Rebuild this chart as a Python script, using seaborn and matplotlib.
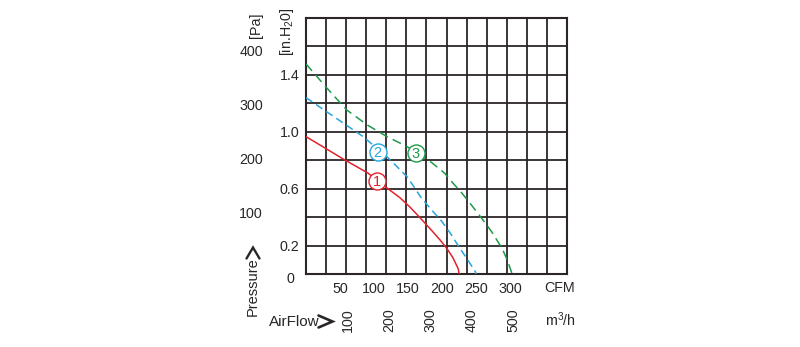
import matplotlib
matplotlib.use("Agg")
import numpy as np
import pandas as pd
import seaborn as sns
import matplotlib.pyplot as plt
from matplotlib import font_manager as fm
from matplotlib.lines import Line2D

# ---------------- data ----------------
cfm_1 = [0, 57, 91, 119, 138, 153, 168, 185, 197, 207, 216, 224, 225]
inh2o_1 = [0.966, 0.802, 0.710, 0.605, 0.537, 0.470, 0.394, 0.305, 0.240, 0.180, 0.115, 0.035, 0.0]

cfm_2 = [0, 84, 121, 149, 170, 187, 200, 214, 226, 238, 249, 250]
inh2o_2 = [1.240, 0.966, 0.816, 0.682, 0.532, 0.438, 0.368, 0.274, 0.183, 0.098, 0.016, 0.0]

cfm_3 = [0, 31, 60, 90, 119, 149, 185, 204, 216, 229, 241, 258, 273, 288, 296, 302, 303]
inh2o_3 = [1.477, 1.306, 1.153, 1.048, 0.966, 0.895, 0.783, 0.708, 0.640, 0.570,
           0.499, 0.394, 0.297, 0.183, 0.098, 0.016, 0.0]

curve_names = ["1", "2", "3"]
curve_colors = ["#e2232b", "#27a6e0", "#1f9a4b"]

cfm_ticks = [50, 100, 150, 200, 250, 300, 350]
cfm_tick_labels = ["50", "100", "150", "200", "250", "300", ""]
inh2o_ticks = [0.2, 0.6, 1.0, 1.4]
inh2o_tick_labels = ["0.2", "0.6", "1.0", "1.4"]
pa_labels = [100, 200, 300, 400]
m3h_labels = [100, 200, 300, 400, 500]

# chart scale constants
X_MAX_CFM = 383.8
Y_MAX_IN = 1.8
N_COLS = 13
M3H_PER_CFM = 1.64
PA_PER_IN = 264.0

# ---------------- style ----------------
sns.set_theme(style="white")
avail = {f.name for f in fm.fontManager.ttflist}
base_font = "Liberation Sans Narrow" if "Liberation Sans Narrow" in avail else "Liberation Sans"
plt.rcParams["font.family"] = [base_font, "DejaVu Sans"]
plt.rcParams["mathtext.default"] = "regular"
TXT = "#2a2627"
GRID = "#2b2526"
FS = 10.3

W, H = 800, 347
fig = plt.figure(figsize=(W / 100, H / 100), dpi=100)
L, R, T, B = 306, 567, 18, 274
ax = fig.add_axes([L / W, 1 - B / H, (R - L) / W, (B - T) / H])

def fx(px):
    return px / W

def fy(py):
    return 1 - py / H

# ---------------- curves ----------------
frames = []
for name, xs, ys in zip(curve_names, [cfm_1, cfm_2, cfm_3], [inh2o_1, inh2o_2, inh2o_3]):
    frames.append(pd.DataFrame({"cfm": xs, "inh2o": ys, "curve": name}))
df = pd.concat(frames, ignore_index=True)

dash_styles = {"1": None, "2": (5, 3), "3": (6, 3.5)}
for name, color in zip(curve_names, curve_colors):
    sub = df[df["curve"] == name]
    sns.lineplot(data=sub, x="cfm", y="inh2o", ax=ax, color=color, lw=1.1,
                 sort=False, estimator=None, legend=False, zorder=3)
    ln = ax.lines[-1]
    if dash_styles[name] is not None:
        ln.set_dashes(dash_styles[name])

# numbered circle labels
circle_pos = {"1": (104, 0.654), "2": (105.4, 0.860), "3": (161.8, 0.853)}
for name, color in zip(curve_names, curve_colors):
    cx, cy = circle_pos[name]
    ax.scatter([cx], [cy], s=150, facecolor="white", edgecolor=color, linewidth=1.0,
               zorder=5, clip_on=False)
    ax.text(cx, cy, name, color=color, fontsize=10.5, ha="center", va="center_baseline",
            zorder=6, family=["Liberation Sans", "DejaVu Sans"])

# ---------------- axes, grid ----------------
ax.set_xlim(0, X_MAX_CFM)
ax.set_ylim(0, Y_MAX_IN)
ax.xaxis.remove_overlapping_locs = False
ax.yaxis.remove_overlapping_locs = False
ax.set_xticks(np.linspace(0, X_MAX_CFM, N_COLS + 1), minor=True)
ax.set_yticks(np.arange(0, Y_MAX_IN + 0.01, 0.2), minor=True)
ax.grid(False)
ax.grid(which="minor", color=GRID, lw=1.3)
ax.set_axisbelow(True)
ax.set_xticks(cfm_ticks)
ax.set_xticklabels(cfm_tick_labels)
ax.set_yticks(inh2o_ticks)
ax.set_yticklabels(inh2o_tick_labels)
ax.tick_params(axis="x", which="major", direction="in", length=3.5, width=1,
               color="#8a8a8a", pad=5.5, labelsize=FS, labelcolor=TXT)
ax.tick_params(axis="y", which="major", length=0, pad=4.5, labelsize=FS, labelcolor=TXT)
ax.tick_params(which="minor", length=0)
ax.set_xlabel("")
ax.set_ylabel("")
for sp in ax.spines.values():
    sp.set_color(GRID)
    sp.set_linewidth(1.5)

# ---------------- outside labels ----------------
for pa in pa_labels:
    y_in = pa / PA_PER_IN
    y_px = B - y_in * (B - T) / Y_MAX_IN - 6.5
    fig.text(fx(263), fy(y_px), str(pa), ha="right", va="center", fontsize=FS, color=TXT)
fig.text(fx(294), fy(279), "0", ha="right", va="center", fontsize=FS, color=TXT)

fig.text(fx(255.5), fy(25), "[Pa]", rotation=90, ha="center", va="center",
         fontsize=FS, color=TXT)
fig.text(fx(287.5), fy(32), "[in.H$_2$0]", rotation=90, ha="center", va="center",
         fontsize=FS, color=TXT)

for v in m3h_labels:
    x_cfm = v / M3H_PER_CFM
    x_px = L + x_cfm * (R - L) / X_MAX_CFM
    fig.text(fx(x_px), fy(320), str(v), rotation=90, ha="center", va="center",
             fontsize=FS, color=TXT)
fig.text(fx(560), fy(320), "m$^3$/h", ha="center", va="center", fontsize=FS, color=TXT)
fig.text(fx(560), fy(287.5), "CFM", ha="center", va="center", fontsize=FS, color=TXT)

fig.text(fx(252.5), fy(287), "Pressure", rotation=90, ha="center", va="center",
         fontsize=10.5, color=TXT)
fig.text(fx(294), fy(322), "AirFlow", ha="center", va="center", fontsize=11, color=TXT)

# chevron arrows
fig.add_artist(Line2D([fx(246.5), fx(253), fx(259.5)], [fy(258.5), fy(247.5), fy(258.5)],
                      color=TXT, lw=1.7, solid_joinstyle="miter"))
fig.add_artist(Line2D([fx(318.5), fx(332.5), fx(318.5)], [fy(315.5), fy(321.5), fy(327.5)],
                      color=TXT, lw=1.9, solid_joinstyle="miter"))

fig.savefig("out.png", dpi=100, facecolor="white")
